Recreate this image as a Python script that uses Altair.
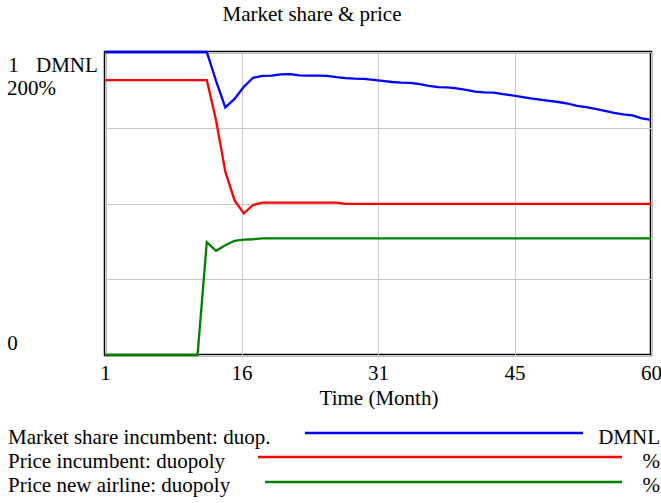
import altair as alt
import pandas as pd

# ---------------- data ----------------
months = [1, 2, 3, 4, 5, 6, 7, 8, 9, 10, 11, 12, 13, 14, 15, 16, 17, 18, 19, 20,
          21, 22, 23, 24, 25, 26, 27, 28, 29, 30, 31, 32, 33, 34, 35, 36, 37, 38, 39, 40,
          41, 42, 43, 44, 45, 46, 47, 48, 49, 50, 51, 52, 53, 54, 55, 56, 57, 58, 59, 60]

share_incumbent = [1.0, 1.0, 1.0, 1.0, 1.0, 1.0, 1.0, 1.0, 1.0, 1.0, 1.0, 1.0,
                   0.905, 0.817, 0.845, 0.885, 0.915, 0.921, 0.922, 0.926,
                   0.927, 0.923, 0.922, 0.922, 0.921, 0.917, 0.914, 0.912, 0.911, 0.908,
                   0.905, 0.901, 0.899, 0.898, 0.894, 0.888, 0.884, 0.883, 0.880, 0.875,
                   0.869, 0.867, 0.866, 0.861, 0.857, 0.852, 0.847, 0.843, 0.839, 0.835,
                   0.830, 0.822, 0.818, 0.812, 0.806, 0.799, 0.794, 0.791, 0.781, 0.776]

price_incumbent = [181.5, 181.5, 181.5, 181.5, 181.5, 181.5, 181.5, 181.5, 181.5, 181.5, 181.5, 181.5,
                   155.0, 121.0, 102.0, 93.5, 99.0, 100.6, 100.6, 100.6,
                   100.6, 100.6, 100.6, 100.6, 100.6, 100.6, 99.8, 99.8, 99.8, 99.8,
                   99.8, 99.8, 99.8, 99.8, 99.8, 99.8, 99.8, 99.8, 99.8, 99.8,
                   99.8, 99.8, 99.8, 99.8, 99.8, 99.8, 99.8, 99.8, 99.8, 99.8,
                   99.8, 99.8, 99.8, 99.8, 99.8, 99.8, 99.8, 99.8, 99.8, 99.8]

price_new_airline = [0, 0, 0, 0, 0, 0, 0, 0, 0, 0, 0, 74.5,
                     68.8, 72.5, 75.4, 76.2, 76.4, 77.0, 77.0, 77.0,
                     77.0, 77.0, 77.0, 77.0, 77.0, 77.0, 77.0, 77.0, 77.0, 77.0,
                     77.0, 77.0, 77.0, 77.0, 77.0, 77.0, 77.0, 77.0, 77.0, 77.0,
                     77.0, 77.0, 77.0, 77.0, 77.0, 77.0, 77.0, 77.0, 77.0, 77.0,
                     77.0, 77.0, 77.0, 77.0, 77.0, 77.0, 77.0, 77.0, 77.0, 77.0]

series_names = ["Market share incumbent: duop.", "Price incumbent: duopoly", "Price new airline: duopoly"]
series_units = ["DMNL", "%", "%"]
series_colors = ["#0000ff", "#ff0000", "#008000"]

x_grid_values = [1, 15.75, 30.5, 45.25, 60]
y_grid_values = [0, 0.25, 0.5, 0.75, 1]

chart_title = "Market share & price"
x_title = "Time (Month)"

FONT = "Liberation Serif"
FS = 21

# ---------------- frames ----------------
df_share = pd.DataFrame({"t": months, "v": share_incumbent, "s": series_names[0]})
df_price = pd.concat([
    pd.DataFrame({"t": months, "v": price_incumbent, "s": series_names[1]}),
    pd.DataFrame({"t": months, "v": price_new_airline, "s": series_names[2]}),
])

x_axis = alt.Axis(values=x_grid_values, labelExpr="round(datum.value)", grid=True,
                  gridColor="#c8c8c8", gridWidth=1, ticks=False, domain=False,
                  labelFont=FONT, labelFontSize=FS, labelColor="black",
                  labelPadding=7, title=None, labelFlush=False)
x_enc = alt.X("t:Q", scale=alt.Scale(domain=[1, 60], nice=False, zero=False), axis=x_axis)

share_line = alt.Chart(df_share).mark_line(strokeWidth=2.3, color=series_colors[0]).encode(
    x=x_enc,
    y=alt.Y("v:Q", scale=alt.Scale(domain=[0, 1], nice=False),
            axis=alt.Axis(values=y_grid_values, labels=False, ticks=False, domain=False,
                          grid=True, gridColor="#c8c8c8", gridWidth=1, title=None)),
)

price_lines = alt.Chart(df_price).mark_line(strokeWidth=2.3).encode(
    x=x_enc,
    y=alt.Y("v:Q", scale=alt.Scale(domain=[0, 200], nice=False), axis=None),
    color=alt.Color("s:N", scale=alt.Scale(domain=series_names[1:], range=series_colors[1:]), legend=None),
    detail="s:N",
)

def txt(label, x, y, align="left", size=FS):
    return alt.Chart(pd.DataFrame({"label": [label]})).mark_text(
        font=FONT, fontSize=size, align=align, baseline="alphabetic", color="black"
    ).encode(text="label:N", x=alt.value(x), y=alt.value(y))

def rule(x1, x2, y, color):
    return alt.Chart(pd.DataFrame({"label": ["r"]})).mark_rule(strokeWidth=2.3, color=color).encode(
        x=alt.value(x1), x2=alt.value(x2), y=alt.value(y))

OX, OY = 105, 52  # plot origin in page pixels

layers = [share_line, price_lines,
          txt(chart_title, 312 - OX, 21 - OY, align="center"),
          txt("1", 13.5 - OX, 72 - OY, align="center"),
          txt("DMNL", 36 - OX, 72 - OY),
          txt("200%", 7 - OX, 95 - OY),
          txt("0", 12.5 - OX, 350 - OY, align="center"),
          txt(x_title, 379 - OX, 405 - OY, align="center")]

legend_rows = [(444, 433, 305, 583), (468, 457, 258, 622), (492, 482, 265, 622)]
for i, (ty, ly, lx1, lx2) in enumerate(legend_rows):
    layers.append(txt(series_names[i], 8 - OX, ty - OY))
    layers.append(rule(lx1 - OX, lx2 - OX, ly - OY, series_colors[i]))
    layers.append(txt(series_units[i], 660 - OX, ty - OY, align="right"))

chart = alt.layer(*layers).resolve_scale(y="independent").properties(
    width=546, height=303,
    autosize=alt.AutoSizeParams(type="none"),
    padding={"left": 105, "top": 52, "right": 10, "bottom": 148},
    background="white",
).configure_view(stroke="black", strokeWidth=2.5)

chart.save("out.html", embed_options={"renderer": "svg", "actions": False})
